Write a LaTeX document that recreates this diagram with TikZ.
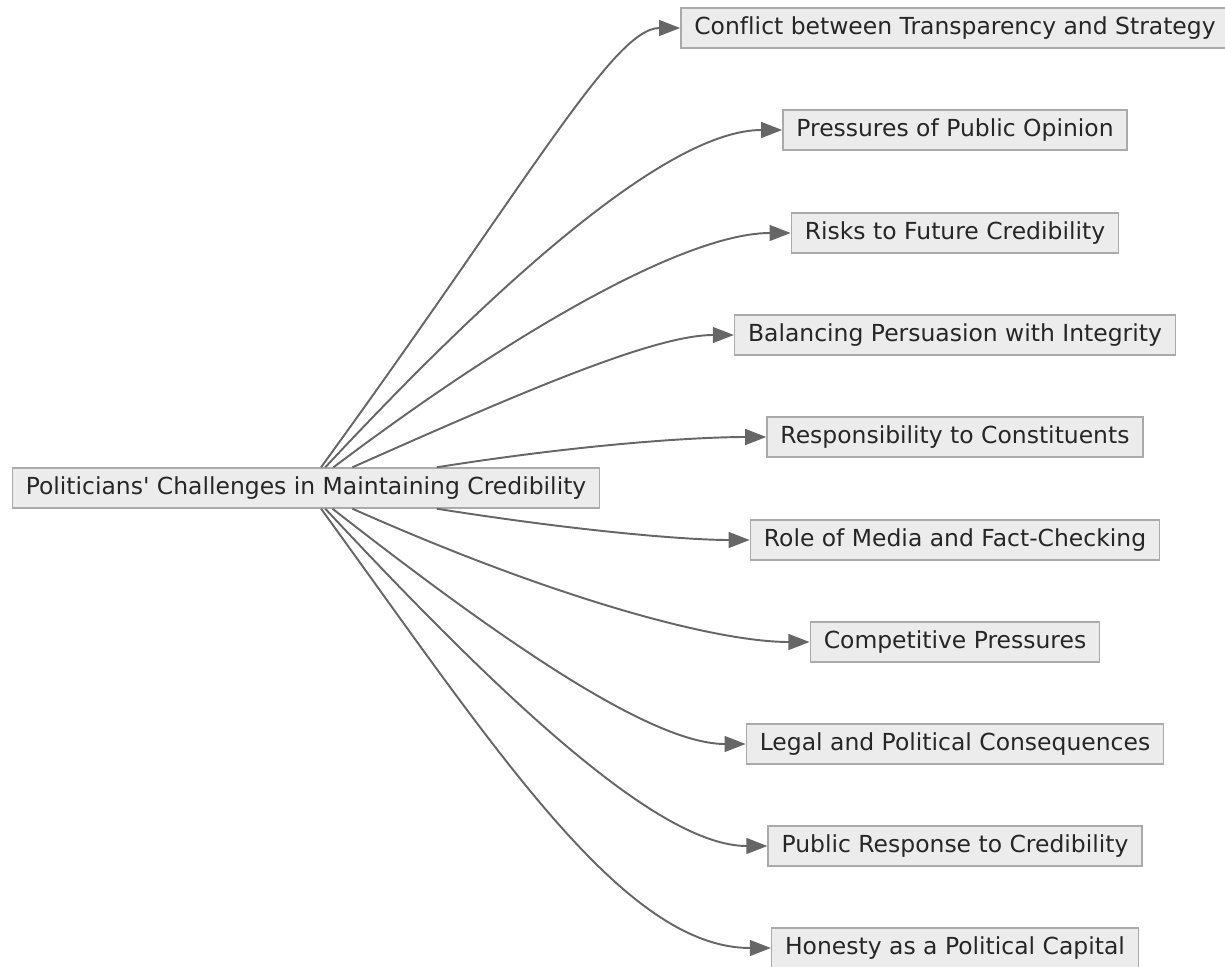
\documentclass[tikz,border=0pt]{standalone}
\usepackage{fontspec}
\setmainfont{DejaVu Sans}[Ligatures=NoCommon]
\usetikzlibrary{arrows.meta}
\definecolor{boxfill}{HTML}{ECECEC}
\definecolor{boxline}{HTML}{AAAAAA}
\definecolor{linkgray}{HTML}{666666}
\begin{document}
\begin{tikzpicture}[x=0.02cm,y=-0.02cm,
    topic/.style={shape=rectangle,draw=boxline,fill=boxfill,line width=0.8pt,
      minimum height=0.8cm,inner xsep=0.27cm,text=black!85,
      font=\fontsize{13.35}{16}\selectfont},
    link/.style={draw=linkgray,line width=1.1pt,-{Triangle[length=12pt,width=9pt]}}]
    \useasboundingbox (0,0) rectangle (1225,967);
    \node[topic] (root) at (306,488) {Politicians\textquotesingle{} Challenges in Maintaining Credibility};
    \node[topic] (conflict) at (955,28) {Conflict between Transparency and Strategy};
    \node[topic] (opinion) at (955,130) {Pressures of Public Opinion};
    \node[topic] (risks) at (955,233) {Risks to Future Credibility};
    \node[topic] (balance) at (955,335) {Balancing Persuasion with Integrity};
    \node[topic] (duty) at (955,437) {Responsibility to Constituents};
    \node[topic] (media) at (955,540) {Role of Media and Fact-Checking};
    \node[topic] (rivals) at (955,642) {Competitive Pressures};
    \node[topic] (legal) at (955,744) {Legal and Political Consequences};
    \node[topic] (response) at (955,846) {Public Response to Credibility};
    \node[topic] (honesty) at (955,948) {Honesty as a Political Capital};
    \path (root) edge[link, out=54, in=180, out looseness=1.6, in looseness=0.3] (conflict.west);
    \path (root) edge[link, out=47, in=180, out looseness=1.2, in looseness=0.5] (opinion.west);
    \path (root) edge[link, out=37, in=180, out looseness=1.2, in looseness=0.5] (risks.west);
    \path (root) edge[link, out=24, in=180, out looseness=1.2, in looseness=0.5] (balance.west);
    \path (root) edge[link, out=9, in=180, out looseness=1.2, in looseness=0.5] (duty.west);
    \path (root) edge[link, out=-9, in=180, out looseness=1.2, in looseness=0.5] (media.west);
    \path (root) edge[link, out=-24, in=180, out looseness=1.2, in looseness=0.5] (rivals.west);
    \path (root) edge[link, out=-38, in=180, out looseness=1.2, in looseness=0.5] (legal.west);
    \path (root) edge[link, out=-47, in=180, out looseness=1.2, in looseness=0.5] (response.west);
    \path (root) edge[link, out=-54, in=180, out looseness=1.2, in looseness=0.6] (honesty.west);
\end{tikzpicture}
\end{document}
